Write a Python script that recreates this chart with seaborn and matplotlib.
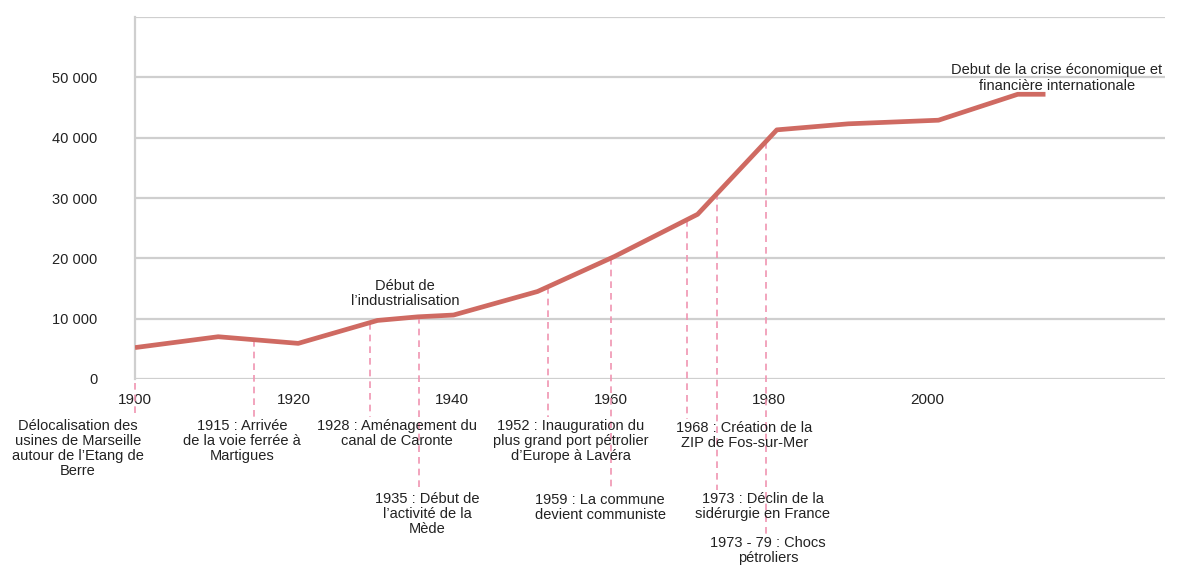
import matplotlib
matplotlib.use("Agg")
import matplotlib.pyplot as plt
import seaborn as sns
import numpy as np

# population curve
years = [1900, 1910.5, 1920.6, 1930.6, 1935.7, 1940.2, 1950.8, 1960.5, 1971, 1981, 1990, 2001.4, 2011.4, 2014.9]
population = [5200, 7000, 5900, 9700, 10300, 10600, 14500, 20300, 27300, 41300, 42300, 42900, 47200, 47200]

# event markers: x position of the dashed line, where it stops below the axis, label text
event_x = [1900, 1915, 1929.6, 1935.8, 1952.1, 1960.1, 1969.7, 1973.5, 1979.6]
event_bottom = [-6300, -6300, -6300, -18400, -6300, -18600, -6600, -18400, -25800]
event_label_x = [1892.8, 1913.5, 1933.1, 1936.9, 1955.0, 1958.7, 1976.9, 1979.2, 1979.9]
event_labels = [
    "Délocalisation des\nusines de Marseille\nautour de l\u2019Etang de\nBerre",
    "1915 : Arrivée\nde la voie ferrée à\nMartigues",
    "1928 : Aménagement du\ncanal de Caronte",
    "1935 : Début de\nl\u2019activité de la\nMède",
    "1952 : Inauguration du\nplus grand port pétrolier\nd\u2019Europe à Lavéra",
    "1959 : La commune\ndevient communiste",
    "1968 : Création de la\nZIP de Fos-sur-Mer",
    "1973 : Déclin de la\nsidérurgie en France",
    "1973 - 79 : Chocs\npétroliers",
]

y_ticks = [0, 10000, 20000, 30000, 40000, 50000, 60000]
y_tick_labels = ["0", "10 000", "20 000", "30 000", "40 000", "50 000", ""]
x_major = [1900, 1920, 1940, 1960, 1980, 2000]
x_minor = [1910, 1930, 1950, 1970, 1990, 2010, 2020]

sns.set_style("white")
plt.rcParams["font.family"] = ["Liberation Sans", "DejaVu Sans"]

fig = plt.figure(figsize=(11.8, 5.69), dpi=100)
ax = fig.add_axes([0.1144, 0.334, 0.873, 0.636])

grid_col = "#cfcfcf"
line_col = "#cf6a62"
dash_col = "#f095b2"
text_col = "#222222"

for yv in y_ticks:
    ax.axhline(yv, color=grid_col, lw=1.6, zorder=0)

# dashed event lines, from the curve down to their labels
for ex, eb in zip(event_x, event_bottom):
    top = np.interp(ex, years, population)
    ax.plot([ex, ex], [top, eb], color=dash_col, lw=1.2, ls=(0, (4, 3)),
            clip_on=False, zorder=1)

sns.lineplot(x=years, y=population, ax=ax, color=line_col, lw=3.4,
             solid_capstyle="butt", zorder=3)

for lx, eb, txt in zip(event_label_x, event_bottom, event_labels):
    ax.text(lx, eb - 300, txt, ha="center", va="top", fontsize=10.5,
            color=text_col, linespacing=1.1, clip_on=False)

ax.text(1934.1, 14100, "Début de\nl\u2019industrialisation", ha="center", va="center",
        fontsize=10.5, color=text_col, linespacing=1.1)
ax.text(2016.3, 49900, "Debut de la crise économique et\nfinancière internationale",
        ha="center", va="center", fontsize=10.5, color=text_col, linespacing=1.1)

ax.set_xlim(1900, 2030)
ax.set_ylim(0, 60000)
ax.set_yticks(y_ticks)
ax.set_yticklabels(y_tick_labels)
ax.set_xticks(x_major)
ax.set_xticks(x_minor, minor=True)
ax.tick_params(axis="y", length=7, color=grid_col, width=1.4, pad=20,
               labelsize=10.5, labelcolor=text_col)
ax.tick_params(axis="x", which="major", length=3, color=grid_col, width=1.4, pad=7,
               labelsize=11, labelcolor=text_col)
ax.tick_params(axis="x", which="minor", length=3, color=grid_col, width=1.4)
ax.set_xlabel("")
ax.set_ylabel("")

for side in ["top", "right", "bottom"]:
    ax.spines[side].set_visible(False)
ax.spines["left"].set_color(grid_col)
ax.spines["left"].set_linewidth(1.6)

fig.savefig("out.png", dpi=100)
